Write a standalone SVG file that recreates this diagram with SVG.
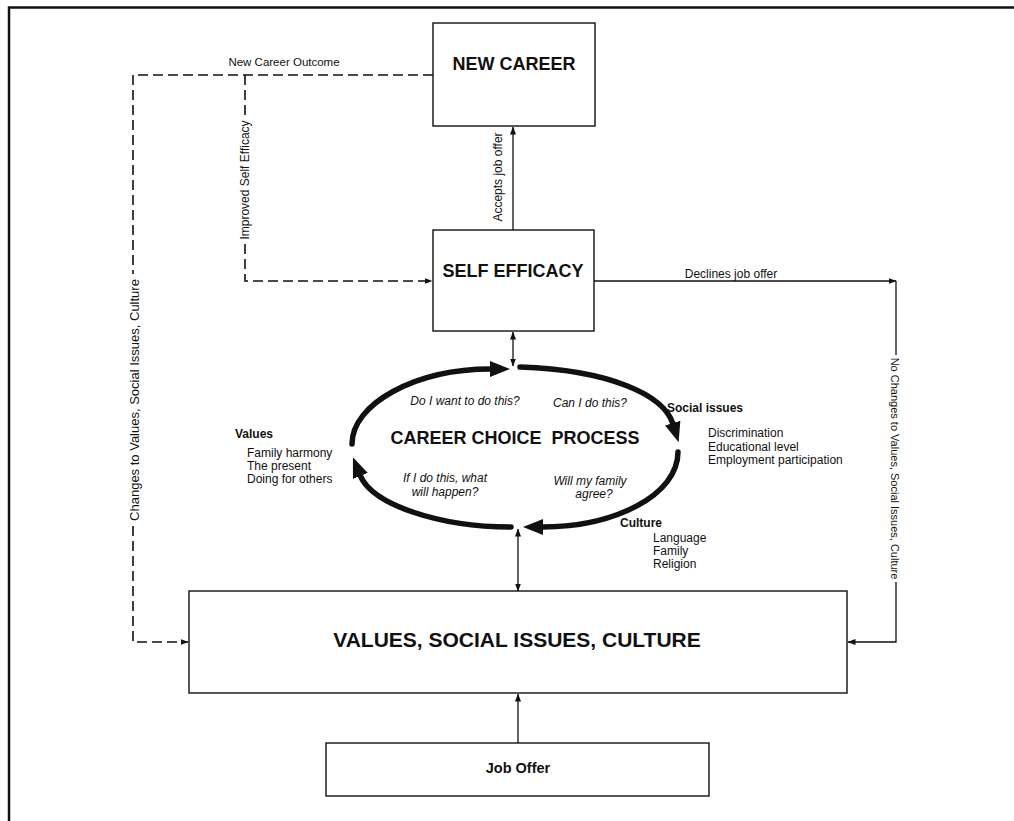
<svg xmlns="http://www.w3.org/2000/svg" width="1014" height="821" viewBox="0 0 1014 821">
  <style>
    text { font-family: "Liberation Sans", Arial, sans-serif; fill: #111; }
    .box { fill: #fff; stroke: #111; stroke-width: 1.4; }
    .title { font-size: 18px; font-weight: bold; text-anchor: middle; }
    .lbl { font-size: 12px; }
    .head { font-size: 12px; font-weight: bold; }
    .q { font-size: 12px; font-style: italic; text-anchor: middle; }
    .line { fill: none; stroke: #111; stroke-width: 1.3; }
    .dash { fill: none; stroke: #111; stroke-width: 1.6; stroke-dasharray: 10 5; }
    .cycle { fill: none; stroke: #111; stroke-width: 5.5; stroke-linecap: round; }
  </style>
  <defs>
    <marker id="arr" viewBox="0 0 8 6" markerWidth="8" markerHeight="6" refX="7.5" refY="3" orient="auto" markerUnits="userSpaceOnUse">
      <path d="M0,0 L8,3 L0,6 z" fill="#111"/>
    </marker>
    <marker id="arrStart" viewBox="0 0 8 6" markerWidth="8" markerHeight="6" refX="0.5" refY="3" orient="auto" markerUnits="userSpaceOnUse">
      <path d="M8,0 L0,3 L8,6 z" fill="#111"/>
    </marker>
    <marker id="big" viewBox="0 0 20 16" markerWidth="20" markerHeight="16" refX="1" refY="8" orient="auto" markerUnits="userSpaceOnUse">
      <path d="M0,0 L20,8 L0,16 z" fill="#111"/>
    </marker>
  </defs>

  <!-- page frame -->
  <path d="M9,821 V7.5 H1014" fill="none" stroke="#111" stroke-width="2.5"/>

  <g id="connectors">
    <!-- accepts job offer -->
    <line class="line" x1="513" y1="230" x2="513" y2="127" marker-end="url(#arr)"/>
    <text class="lbl" text-anchor="middle" transform="translate(502,177) rotate(-90)">Accepts job offer</text>

    <!-- new career outcome loop (dashed) -->
    <path class="dash" d="M433,75 H133 V274"/>
    <path class="dash" d="M133,526 V642 H188" marker-end="url(#arr)"/>
    <text class="lbl" x="284" y="66" text-anchor="middle" style="font-size:11.5px">New Career Outcome</text>
    <text class="lbl" text-anchor="middle" transform="translate(139,400) rotate(-90)" style="font-size:13px">Changes to Values, Social Issues, Culture</text>

    <!-- improved self efficacy (dashed) -->
    <path class="dash" d="M245,75 V116"/>
    <path class="dash" d="M245,244 V281 H432" marker-end="url(#arr)"/>
    <text class="lbl" text-anchor="middle" transform="translate(249,180) rotate(-90)">Improved Self Efficacy</text>

    <!-- declines job offer -->
    <path class="line" d="M594,281 H896" marker-end="url(#arr)"/>
    <path class="line" d="M896,281 V355"/>
    <path class="line" d="M896,582 V642 H848" marker-end="url(#arr)"/>
    <text class="lbl" x="731" y="278" text-anchor="middle">Declines job offer</text>
    <text class="lbl" text-anchor="middle" transform="translate(891,468.5) rotate(90)" style="font-size:11px">No Changes to Values, Social Issues, Culture</text>

    <!-- two-way links to the cycle -->
    <line class="line" x1="513" y1="332" x2="513" y2="366" marker-start="url(#arrStart)" marker-end="url(#arr)"/>
    <line class="line" x1="518" y1="529" x2="518" y2="591" marker-start="url(#arrStart)" marker-end="url(#arr)"/>

    <!-- job offer into values -->
    <line class="line" x1="518" y1="743" x2="518" y2="694" marker-end="url(#arr)"/>
  </g>

  <g id="new-career">
    <rect class="box" x="433" y="23" width="162" height="103"/>
    <text class="title" x="514" y="70">NEW CAREER</text>
  </g>

  <g id="self-efficacy">
    <rect class="box" x="433" y="230" width="161" height="101"/>
    <text class="title" x="513" y="277">SELF EFFICACY</text>
  </g>

  <g id="career-choice-process">
    <path class="cycle" d="M352,444 C352,404 415,369 491,369" marker-end="url(#big)"/>
    <path class="cycle" d="M520,367 C610,370 664,395 673,424" marker-end="url(#big)"/>
    <path class="cycle" d="M678,452 C678,495 615,527 542,527" marker-end="url(#big)"/>
    <path class="cycle" d="M511,527 C440,527 372,505 360,475" marker-end="url(#big)"/>
    <text class="title" x="515" y="444" xml:space="preserve">CAREER CHOICE  PROCESS</text>
    <text class="q" x="465" y="405">Do I want to do this?</text>
    <text class="q" x="590" y="407">Can I do this?</text>
    <text class="q" x="445" y="482">If I do this, what</text>
    <text class="q" x="445" y="496">will happen?</text>
    <text class="q" x="590" y="485">Will my family</text>
    <text class="q" x="594" y="498">agree?</text>
  </g>

  <g id="values-list">
    <text class="head" x="235" y="438">Values</text>
    <text class="lbl" x="247" y="457">Family harmony</text>
    <text class="lbl" x="247" y="470">The present</text>
    <text class="lbl" x="247" y="483">Doing for others</text>
  </g>

  <g id="social-issues-list">
    <text class="head" x="667" y="412">Social issues</text>
    <text class="lbl" x="708" y="437">Discrimination</text>
    <text class="lbl" x="708" y="451">Educational level</text>
    <text class="lbl" x="708" y="464">Employment participation</text>
  </g>

  <g id="culture-list">
    <text class="head" x="620" y="527">Culture</text>
    <text class="lbl" x="653" y="542">Language</text>
    <text class="lbl" x="653" y="555">Family</text>
    <text class="lbl" x="653" y="568">Religion</text>
  </g>

  <g id="values-social-issues-culture">
    <rect class="box" x="189" y="591" width="658" height="102"/>
    <text class="title" x="517" y="647" style="font-size:21px">VALUES, SOCIAL ISSUES, CULTURE</text>
  </g>

  <g id="job-offer">
    <rect class="box" x="326" y="743" width="383" height="53"/>
    <text class="title" x="518" y="773" style="font-size:14.5px">Job Offer</text>
  </g>
</svg>
